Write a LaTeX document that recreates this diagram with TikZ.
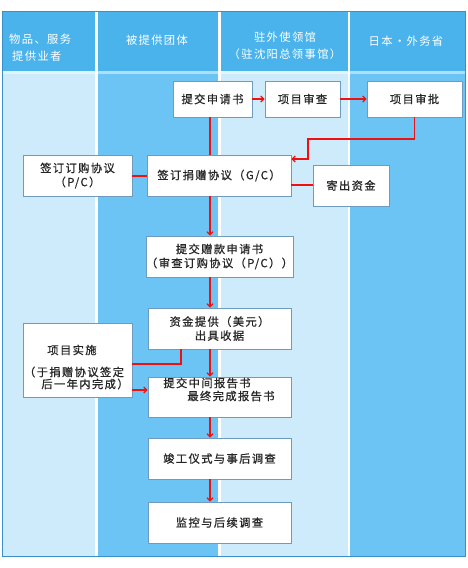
\documentclass[tikz,border=0pt]{standalone}
\usepackage{fontspec}
\setmainfont{Noto Sans CJK SC}[LetterSpace=12]
\newfontfamily\boxfont{Noto Sans CJK SC}[LetterSpace=12, FakeBold=0.7]
\usetikzlibrary{arrows.meta}
\definecolor{hdr}{HTML}{4BB3EC}
\definecolor{darkcol}{HTML}{6CC4F4}
\definecolor{lightcol}{HTML}{CDEBFB}
\definecolor{framecol}{HTML}{3A8FC8}
\definecolor{boxline}{HTML}{6E9CC0}
\definecolor{flow}{HTML}{F01010}
\tikzset{
  box/.style={draw=boxline, fill=white, line width=0.9pt, inner sep=0pt, align=center,
    text=black!85, font=\boxfont\fontsize{11.3}{14}\selectfont},
  txt/.style={inner sep=0pt, align=center, text=black!85, font=\boxfont\fontsize{11.3}{14}\selectfont},
  hdrtxt/.style={inner sep=0pt, text=white, font=\fontsize{11.3}{17}\selectfont},
  link/.style={draw=flow, color=flow, line width=1.2pt},
  arr/.style={link, -{Straight Barb[length=3pt,width=6pt]}}
}
\begin{document}
\begin{tikzpicture}[x=1pt,y=-1pt]
\useasboundingbox (0,0) rectangle (468,568);
% frame and columns
\fill[white] (2,11) rectangle (466,557);
\fill[lightcol] (3,11) rectangle (95,557);
\fill[darkcol] (98,11) rectangle (218,557);
\fill[lightcol] (221,11) rectangle (348,557);
\fill[darkcol] (350,11) rectangle (465,557);
\foreach \a/\b in {3/95,98/218,221/348,350/465}{
  \fill[hdr] (\a,11) rectangle (\b,71);
  \fill[white,opacity=0.45] (\a,71) rectangle (\b,74);
}
\draw[framecol, line width=1.3pt] (2.5,11.5) rectangle (465.5,556.5);
% headers
\node[hdrtxt, anchor=west, align=left] (h1) at (9,48) {物品、服务\\\hspace{3pt}提供业者};
\node[hdrtxt] (h2) at (157,40) {被提供团体};
\node[hdrtxt, align=center] (h3) at (285,46) {驻外使领馆\\（驻沈阳总领事馆）};
\node[hdrtxt] (h4) at (406,41) {日本・外务省};
% boxes
\node[box, minimum width=79pt, minimum height=36pt] (submit) at (212.5,99) {提交申请书};
\node[box, minimum width=75pt, minimum height=36pt] (review) at (302.5,99) {项目审查};
\node[box, minimum width=95pt, minimum height=36pt] (approve) at (414.5,99) {项目审批};
\node[box, minimum width=109pt, minimum height=41pt] (pc) at (77.5,175.5) {签订订购协议\\（P/C）};
\node[box, minimum width=144pt, minimum height=41pt] (gc) at (219,175.5) {签订捐赠协议（G/C）};
\node[box, minimum width=76pt, minimum height=41pt] (send) at (351,185.5) {寄出资金};
\node[box, minimum width=143pt, minimum height=41pt] (grantapp) at (219.5,256.5) {提交赠款申请书\\（审查订购协议（P/C））};
\node[box, minimum width=143pt, minimum height=41pt] (fund) at (219.5,328.5) {资金提供（美元）\\出具收据};
\node[box, minimum width=109pt, minimum height=74pt] (impl) at (77.5,360) {};
\node[txt] (impla) at (72,350) {项目实施};
\node[txt] (implb) at (74,372) {（于捐赠协议签定};
\node[txt] (implc) at (85,384) {后一年内完成）};
\node[box, minimum width=143pt, minimum height=40pt] (report) at (219.5,397) {};
\node[txt] (repa) at (207,383) {提交中间报告书};
\node[txt] (repb) at (231,396) {最终完成报告书};
\node[box, minimum width=143pt, minimum height=41pt] (ceremony) at (219.5,458.5) {竣工仪式与事后调查};
\node[box, minimum width=143pt, minimum height=41pt] (monitor) at (219.5,522.5) {监控与后续调查};
% helper coordinates
\coordinate (sp) at (210,0);
\coordinate (t1) at (308,139);
\coordinate (t2) at (308,159);
\coordinate (f1) at (181,0);
\coordinate (f2) at (181,364);
\coordinate (i1) at (0,390);
\coordinate (g1) at (0,176);
\coordinate (g2) at (0,185);
% connectors
\draw[arr] (submit.east) -- (review.west);
\draw[arr] (review.east) -- (approve.west);
\draw[arr] (approve.south) |- (t1) -- (t2) -- (t2 -| gc.east);
\draw[link] (submit.south -| sp) -- (gc.north -| sp);
\draw[arr] (gc.south -| sp) -- (grantapp.north -| sp);
\draw[arr] (grantapp.south -| sp) -- (fund.north -| sp);
\draw[arr] (fund.south -| sp) -- (report.north -| sp);
\draw[arr] (report.south -| sp) -- (ceremony.north -| sp);
\draw[arr] (ceremony.south -| sp) -- (monitor.north -| sp);
\draw[link] (g1 -| pc.east) -- (g1 -| gc.west);
\draw[link] (g2 -| send.west) -- (g2 -| gc.east);
\draw[link] (fund.south -| f1) -- (f2) -- (f2 -| impl.east);
\draw[arr] (i1 -| impl.east) -- (i1 -| report.west);
\end{tikzpicture}
\end{document}
